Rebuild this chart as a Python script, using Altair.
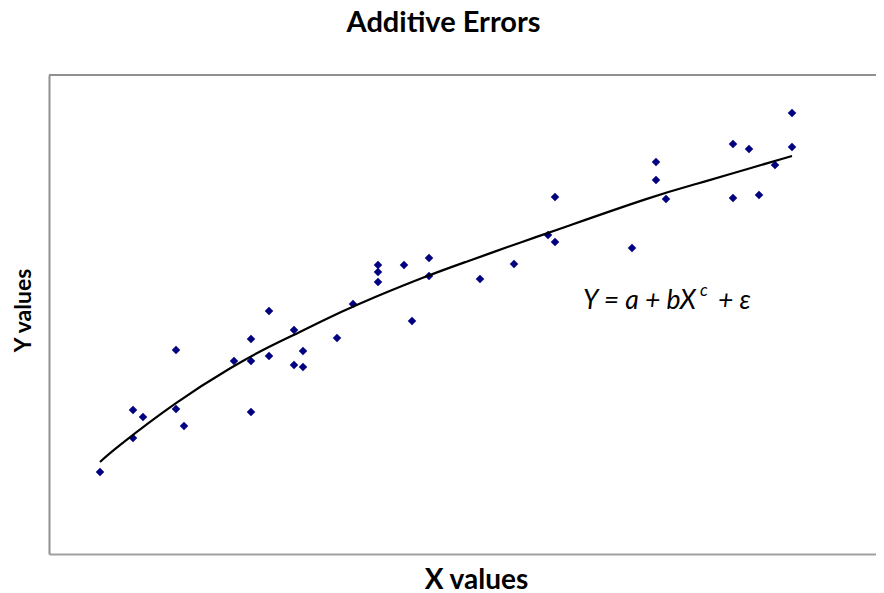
import altair as alt
import pandas as pd

x_vals = [51, 84, 94, 84, 127, 127, 135, 185, 202, 202, 202, 220, 220, 245,
          245, 254, 254, 288, 304, 329, 329, 329, 355, 363, 380, 380, 431, 465,
          506, 506, 499, 583, 607, 607, 617, 684, 700, 743, 743, 726, 684, 710]
y_vals = [82, 144, 137, 116, 204, 145, 128, 193, 215, 193, 142, 243, 198, 224,
          189, 203, 187, 216, 250, 289, 282, 272, 289, 233, 296, 278, 275, 290,
          312, 357, 319, 306, 392, 374, 355, 410, 405, 441, 407, 389, 356, 359]

# Fitted curve
curve_x = [51, 64, 128, 184, 221, 251, 271, 304, 380, 411, 481, 499, 607, 651, 671, 743]
curve_y = [92, 104, 153, 188, 208, 222, 232, 248, 279, 290, 315, 321, 359, 371, 377, 398]

# Equation annotation pieces
eq_text = ["Y = a + bX", "c", "+ ε"]
eq_x = [534, 651, 669]
eq_y = [245, 258, 245]
eq_size = [26.5, 17, 26.5]

W, H = 827, 479
FONT = "Lato"

pts = pd.DataFrame({"x": x_vals, "y": y_vals})
crv = pd.DataFrame({"x": curve_x, "y": curve_y})
eq = pd.DataFrame({"t": eq_text, "x": eq_x, "y": eq_y, "s": eq_size})

xs = alt.Scale(domain=[0, W], nice=False, zero=False)
ys = alt.Scale(domain=[0, H], nice=False, zero=False)

xaxis = alt.Axis(title="X values", ticks=False, labels=False, grid=False,
                 domain=True, domainColor="#a0a0a0", domainWidth=2,
                 titleFont=FONT, titleFontSize=28, titleFontWeight="bold",
                 titleColor="black", titleX=427, titleY=34,
                 titleBaseline="alphabetic", titleAnchor="start", titleAlign="center")
yaxis = alt.Axis(title="Y values", ticks=False, labels=False, grid=False,
                 domain=True, domainColor="#909090", domainWidth=2,
                 titleFont=FONT, titleFontSize=23, titleFontWeight="bold",
                 titleColor="black", titleX=-19, titleY=235, titleAngle=-90,
                 titleBaseline="alphabetic", titleAlign="center")

points = alt.Chart(pts).mark_point(shape="diamond", filled=True, color="#000080",
                                   size=72, opacity=1).encode(
    x=alt.X("x:Q", scale=xs, axis=xaxis),
    y=alt.Y("y:Q", scale=ys, axis=yaxis),
)

line = alt.Chart(crv).mark_line(color="black", strokeWidth=2.2,
                                interpolate="basis").encode(
    x=alt.X("x:Q", scale=xs),
    y=alt.Y("y:Q", scale=ys),
)

top_border = alt.Chart(pd.DataFrame({"a": [0]})).mark_rule(
    color="#909090", strokeWidth=2).encode(
    x=alt.value(0), x2=alt.value(W), y=alt.value(0))

eq_marks = alt.Chart(eq).mark_text(font=FONT, fontStyle="italic", align="left",
                                   baseline="alphabetic", color="black").encode(
    x=alt.X("x:Q", scale=xs),
    y=alt.Y("y:Q", scale=ys),
    text="t:N",
    size=alt.Size("s:Q", scale=None, legend=None),
)

chart = alt.layer(points, line, top_border, eq_marks).properties(
    width=W, height=H,
    title=alt.TitleParams("Additive Errors", font=FONT, fontSize=29,
                          fontWeight="bold", color="black", anchor="middle",
                          dx=-19, offset=13, baseline="alphabetic"),
    autosize=alt.AutoSizeParams(type="none"),
    padding={"left": 41, "top": 67, "right": 0, "bottom": 39},
).configure_view(stroke=None)

chart.save("out.html", embed_options={"renderer": "svg", "actions": False})
